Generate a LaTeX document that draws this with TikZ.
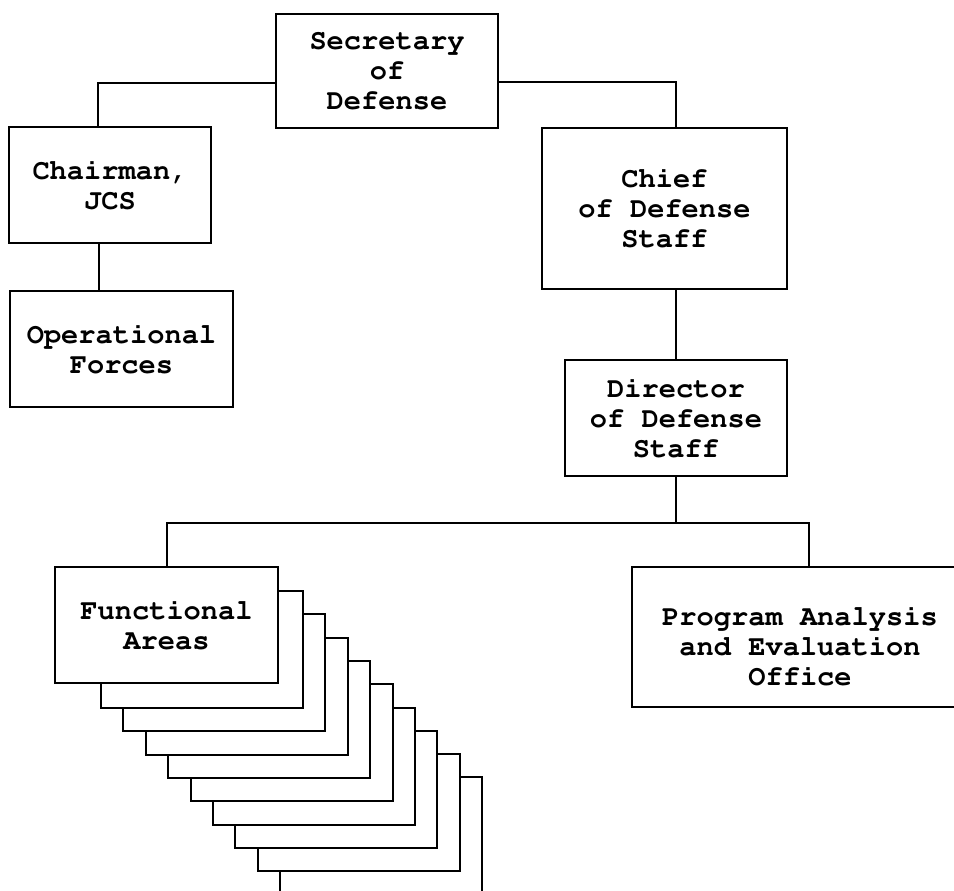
\documentclass[tikz,border=0pt]{standalone}
\usepackage[T1]{fontenc}
\usepackage{courier}
\usetikzlibrary{positioning}

\begin{document}
\begin{tikzpicture}[
      x=1pt, y=-1pt,
      office/.style={
        draw,
        fill=white,
        line width=2pt,
        inner sep=0pt,
        align=center,
        font=\ttfamily\bfseries\fontsize{28.7}{30}\selectfont
      },
      sheet/.style={
        draw,
        fill=white,
        line width=2pt,
        minimum width=202pt,
        minimum height=117pt
      },
      link/.style={line width=2pt}
    ]
    \useasboundingbox (0,0) rectangle (954,891);
    \clip (0,0) rectangle (954,891);
    %% Offices
    \node[office, minimum width=222pt, minimum height=114pt] (sec) at (387,71) {Secretary\\of\\Defense};
    \node[office, minimum width=202pt, minimum height=116pt] (chair) at (110,185) {Chairman,\\JCS};
    \node[office, minimum width=223pt, minimum height=116pt, below=46pt of chair, xshift=11.5pt] (opf) {Operational\\Forces};
    \node[office, minimum width=245pt, minimum height=161pt] (chief) at (664.5,208.5) {Chief\\of Defense\\Staff};
    \node[office, minimum width=222pt, minimum height=116pt, below=69pt of chief, xshift=11.5pt] (dir) {Director\\of Defense\\Staff};
    %% Stack of functional areas
    \foreach \k in {9,...,1}
      \node[sheet, anchor=north west] (fa-\k) at ({100+22.4*(\k-1)},{590+23.3*(\k-1)}) {};
    \node[office, minimum width=223pt, minimum height=116pt] (func) at (166.5,625) {Functional\\Areas};
    \node[office, minimum width=336pt, minimum height=140pt,
      label={[yshift=-9pt, align=center, font=\ttfamily\bfseries\fontsize{28.7}{30}\selectfont]center:Program Analysis\\and Evaluation\\Office}] (prog) at (800,637) {};
    %% Lines
    \draw[link] ([yshift=-12pt]sec.west) -| ([xshift=-12pt]chair.north);
    \draw[link] ([yshift=-11pt]sec.east) -| ([xshift=11.5pt]chief.north);
    \draw[link] ([xshift=-11pt]chair.south) -- ([xshift=-11pt]chair.south |- opf.north);
    \draw[link] (dir.north |- chief.south) -- (dir.north);
    \coordinate[below=46pt of dir.south] (split);
    \draw[link] (dir.south) -- (split);
    \draw[link] (func.north) |- (split) -| ([xshift=9pt]prog.north);
  \end{tikzpicture}
\end{document}
